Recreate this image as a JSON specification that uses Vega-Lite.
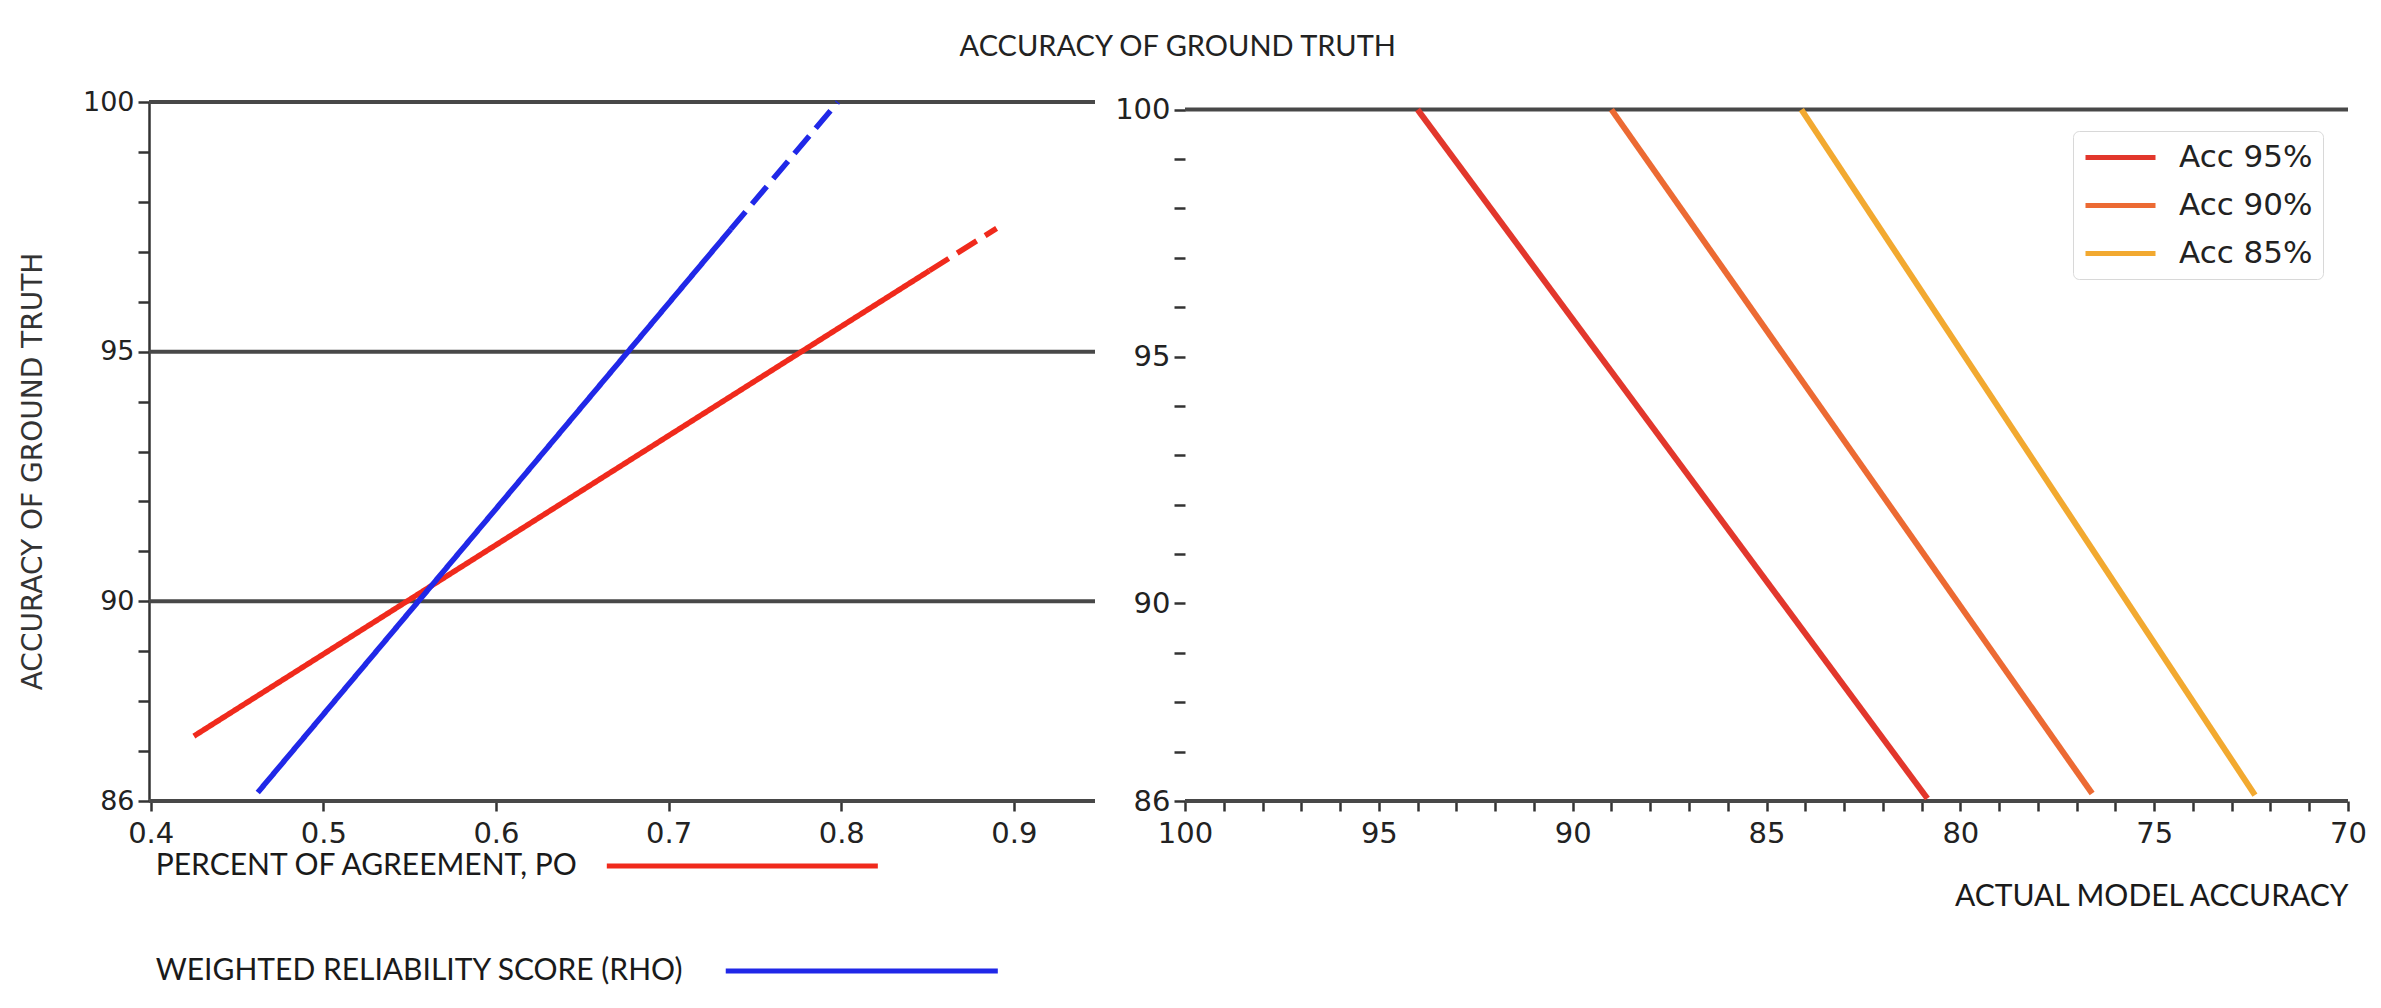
{
  "$schema": "https://vega.github.io/schema/vega-lite/v6.json",
  "background": "white",
  "padding": {"left": 19, "top": 33, "right": 5, "bottom": 5},
  "title": {"text": "ACCURACY OF GROUND TRUTH", "font": "Lato", "fontSize": 29, "fontWeight": "normal", "color": "#222222", "anchor": "middle", "offset": 26, "dx": -15},
  "spacing": 17,
  "config": {
    "view": {"stroke": null},
    "axis": {"grid": false, "labelFlush": false, "labelOverlap": false, "labelBound": false, "domainColor": "#333333", "domainWidth": 2.5, "tickColor": "#333333", "tickWidth": 2.5, "labelColor": "#222222", "labelFont": "DejaVu Sans"}
  },
  "resolve": {"scale": {"color": "independent", "strokeDash": "independent", "x": "independent", "y": "independent"}, "legend": {"color": "independent"}},
  "hconcat": [
    {
      "spacing": 65,
      "bounds": "flush",
      "resolve": {"scale": {"color": "independent", "x": "independent", "y": "independent"}},
      "vconcat": [
        {
          "width": 946,
          "height": 699,
          "layer": [
            {
              "data": {"values": [{"y": 100}, {"y": 95}, {"y": 90}, {"y": 86}]},
              "mark": {"type": "rule", "color": "#484848", "strokeWidth": 4},
              "encoding": {
                "y": {"field": "y", "type": "quantitative", "scale": {"domain": [86, 100], "nice": false, "zero": false},
                  "axis": {"title": "ACCURACY OF GROUND TRUTH", "titleFont": "DejaVu Sans", "titleFontSize": 28, "titleFontWeight": "normal", "titleColor": "#333333", "titleX": -116, "titleY": 369, "titleAlign": "center", "titleBaseline": "middle", "titleAngle": 270,
                    "values": [86, 87, 88, 89, 90, 91, 92, 93, 94, 95, 96, 97, 98, 99, 100], "tickCount": 30, "format": "d", "labelExpr": "(datum.value % 5 == 0 || datum.value == 86) ? datum.label : ''", "labelOverlap": false, "tickSize": 11, "labelFontSize": 27, "labelPadding": 4}}
              }
            },
            {
              "data": {"values": [
                {"series": "Percent of Agreement, Po", "part": "observed", "x": 0.425, "y": 87.3},
                {"series": "Percent of Agreement, Po", "part": "observed", "x": 0.851, "y": 96.62},
                {"series": "Percent of Agreement, Po", "part": "extrapolated", "x": 0.851, "y": 96.62},
                {"series": "Percent of Agreement, Po", "part": "extrapolated", "x": 0.89, "y": 97.47},
                {"series": "Weighted Reliability score (Rho)", "part": "observed", "x": 0.462, "y": 86.17},
                {"series": "Weighted Reliability score (Rho)", "part": "observed", "x": 0.736, "y": 97.45},
                {"series": "Weighted Reliability score (Rho)", "part": "extrapolated", "x": 0.736, "y": 97.45},
                {"series": "Weighted Reliability score (Rho)", "part": "extrapolated", "x": 0.798, "y": 100}
              ]},
              "mark": {"type": "line", "strokeWidth": 5.5, "strokeCap": "butt"},
              "encoding": {
                "x": {"field": "x", "type": "quantitative", "scale": {"domain": [0.399, 0.947], "nice": false, "zero": false},
                  "axis": {"title": null, "values": [0.4, 0.5, 0.6, 0.7, 0.8, 0.9], "format": ".1f", "domain": false, "labelOverlap": false, "tickSize": 10, "labelFontSize": 29, "labelPadding": 8}},
                "y": {"field": "y", "type": "quantitative"},
                "color": {"field": "series", "type": "nominal", "scale": {"domain": ["Percent of Agreement, Po", "Weighted Reliability score (Rho)"], "range": ["#f02a1c", "#2028e8"]}, "legend": null},
                "strokeDash": {"field": "part", "type": "nominal", "scale": {"domain": ["observed", "extrapolated"], "range": [[1, 0], [23, 10]]}, "legend": null}
              }
            }
          ]
        },
        {
          "width": 946,
          "height": 105,
          "data": {"values": [
            {"series": "Percent of Agreement, Po", "label": "PERCENT OF AGREEMENT, PO"},
            {"series": "Weighted Reliability score (Rho)", "label": "WEIGHTED RELIABILITY SCORE (RHO)"}
          ]},
          "layer": [
            {
              "mark": {"type": "text", "align": "left", "baseline": "middle", "font": "Lato", "fontSize": 30, "color": "#1a1a1a"},
              "encoding": {
                "x": {"datum": 0.4029, "type": "quantitative", "scale": {"domain": [0.399, 0.947], "nice": false, "zero": false}, "axis": null},
                "y": {"field": "series", "type": "nominal", "scale": {"type": "point", "domain": ["Percent of Agreement, Po", "Weighted Reliability score (Rho)"], "padding": 0, "paddingOuter": 0}, "axis": null},
                "text": {"field": "label", "type": "nominal"}
              }
            },
            {
              "transform": [{"filter": "datum.series == 'Percent of Agreement, Po'"}],
              "mark": {"type": "rule", "strokeWidth": 5},
              "encoding": {
                "x": {"datum": 0.6642, "type": "quantitative"},
                "x2": {"datum": 0.8212},
                "y": {"field": "series", "type": "nominal"},
                "color": {"field": "series", "type": "nominal", "scale": {"domain": ["Percent of Agreement, Po", "Weighted Reliability score (Rho)"], "range": ["#f02a1c", "#2028e8"]}, "legend": null}
              }
            },
            {
              "transform": [{"filter": "datum.series == 'Weighted Reliability score (Rho)'"}],
              "mark": {"type": "rule", "strokeWidth": 5},
              "encoding": {
                "x": {"datum": 0.7331, "type": "quantitative"},
                "x2": {"datum": 0.8907},
                "y": {"field": "series", "type": "nominal"},
                "color": {"field": "series", "type": "nominal", "legend": null}
              }
            }
          ]
        }
      ]
    },
    {
      "width": 1163,
      "height": 699,
      "layer": [
        {
          "data": {"values": [{"y": 100}, {"y": 86}]},
          "mark": {"type": "rule", "color": "#484848", "strokeWidth": 4},
          "encoding": {
            "y": {"field": "y", "type": "quantitative", "scale": {"domain": [86, 100.154], "nice": false, "zero": false},
              "axis": {"title": null, "domain": false, "values": [86, 87, 88, 89, 90, 91, 92, 93, 94, 95, 96, 97, 98, 99, 100], "tickCount": 30, "format": "d", "labelExpr": "(datum.value % 5 == 0 || datum.value == 86) ? datum.label : ''", "labelOverlap": false, "tickSize": 11, "labelFontSize": 29, "labelPadding": 4}}
          }
        },
        {
          "mark": {"type": "rule", "color": "#333333", "strokeWidth": 2.5},
          "encoding": {"x": {"datum": 100, "type": "quantitative"}, "y": {"datum": 86, "type": "quantitative"}, "y2": {"datum": 100}}
        },
        {
          "mark": {"type": "rule", "color": "#333333", "strokeWidth": 2.5},
          "encoding": {"x": {"datum": 70, "type": "quantitative"}, "y": {"datum": 86, "type": "quantitative"}, "y2": {"datum": 100}}
        },
        {
          "data": {"values": [
            {"series": "Acc 95%", "x": 94.0, "y": 100},
            {"series": "Acc 95%", "x": 80.85, "y": 86.05},
            {"series": "Acc 90%", "x": 89.0, "y": 100},
            {"series": "Acc 90%", "x": 76.6, "y": 86.15},
            {"series": "Acc 85%", "x": 84.1, "y": 100},
            {"series": "Acc 85%", "x": 72.4, "y": 86.12}
          ]},
          "mark": {"type": "line", "strokeWidth": 6, "strokeCap": "butt"},
          "encoding": {
            "x": {"field": "x", "type": "quantitative", "scale": {"domain": [70, 100], "reverse": true, "nice": false, "zero": false},
              "axis": {"title": "ACTUAL MODEL ACCURACY", "titleFont": "Lato", "titleFontSize": 30, "titleFontWeight": "normal", "titleColor": "#1a1a1a", "titleX": 1163, "titleY": 95, "titleAlign": "right", "titleBaseline": "middle",
                "domain": false, "values": [70, 71, 72, 73, 74, 75, 76, 77, 78, 79, 80, 81, 82, 83, 84, 85, 86, 87, 88, 89, 90, 91, 92, 93, 94, 95, 96, 97, 98, 99, 100], "tickCount": 60, "format": "d", "labelExpr": "datum.value % 5 == 0 ? datum.label : ''", "labelOverlap": false, "tickSize": 10, "labelFontSize": 29, "labelPadding": 8}},
            "y": {"field": "y", "type": "quantitative"},
            "color": {"field": "series", "type": "nominal", "scale": {"domain": ["Acc 95%", "Acc 90%", "Acc 85%"], "range": ["#e2372c", "#ec6a33", "#f2a930"]},
              "legend": {"title": null, "orient": "none", "legendX": 888, "legendY": 29, "symbolType": "M-1,0H4", "symbolSize": 784, "symbolStrokeWidth": 5, "labelFont": "DejaVu Sans", "labelFontSize": 31, "labelColor": "#222222", "labelOffset": 63, "rowPadding": 16, "padding": 10, "strokeColor": "#d8d8d8", "fillColor": "white", "cornerRadius": 6}}
          }
        }
      ]
    }
  ]
}
